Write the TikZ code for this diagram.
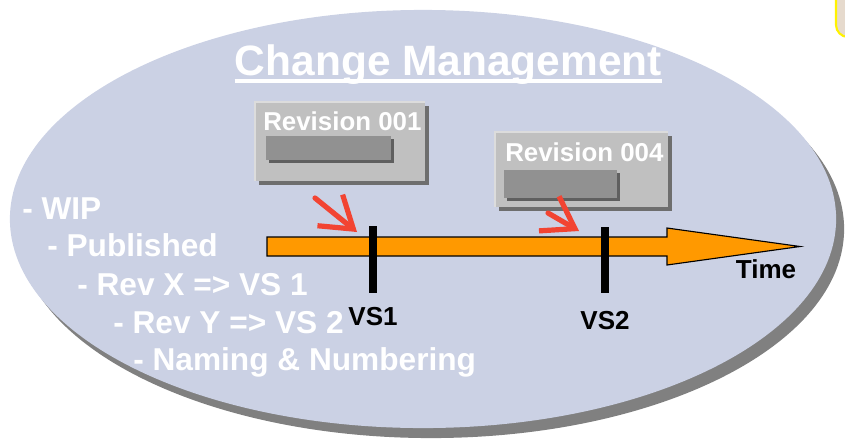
\documentclass[tikz,border=0pt]{standalone}
\usepackage{fontspec}
\setmainfont{Liberation Sans}
\usetikzlibrary{arrows.meta,shadows}

\definecolor{ovalblue}{RGB}{203,209,228}
\definecolor{ovalshadow}{RGB}{128,128,128}
\definecolor{boxgray}{RGB}{192,192,192}
\definecolor{boxlight}{RGB}{220,220,220}
\definecolor{boxdark}{RGB}{110,110,110}
\definecolor{bargray}{RGB}{145,145,145}
\definecolor{bardark}{RGB}{95,95,95}
\definecolor{timeorange}{RGB}{255,153,0}
\definecolor{pointred}{RGB}{242,68,50}
\definecolor{notebeige}{RGB}{230,218,205}

\begin{document}
\begin{tikzpicture}[x=0.025cm,y=-0.025cm]
			\tikzset{listitem/.style={anchor=base west,inner sep=0pt,text=white,font=\bfseries\fontsize{22.5}{27}\selectfont}}
			\tikzset{revbox/.style={fill=boxgray,inner sep=0pt,drop shadow={shadow xshift=0.1cm,shadow yshift=-0.1cm,fill=boxdark,opacity=1}}}
			\tikzset{revbar/.style={fill=bargray,inner sep=0pt,drop shadow={shadow xshift=0.07cm,shadow yshift=-0.07cm,fill=bardark,opacity=1}}}
			\tikzset{revtitle/.style={anchor=base west,inner sep=0pt,text=white,font=\bfseries\fontsize{18.4}{22}\selectfont}}
			\tikzset{vslabel/.style={anchor=base,inner sep=0pt,font=\bfseries\fontsize{18.5}{22}\selectfont}}
			\tikzset{vstick/.style={line width=0.2cm}}
			\tikzset{pointer/.style={draw=pointred,line width=0.13cm,line cap=round,line join=round,-{Straight Barb[length=0.75cm,width=1cm]}}}
			\useasboundingbox (0,0) rectangle (845,441);
			\clip (0,0) rectangle (845,441);
			\draw[fill=notebeige,draw=yellow,line width=1.5pt,rounded corners=0.3cm] (836,-20) rectangle (880,37);
			\fill[ovalshadow] (431,229) ellipse [x radius=10.325cm,y radius=5.225cm];
			\fill[ovalblue] (423,219) ellipse [x radius=10.325cm,y radius=5.225cm];
			\node[anchor=base,inner sep=0pt,text=white,font=\bfseries\fontsize{30.2}{36}\selectfont] (title) at (448.5,75) {Change Management};
			\draw[white,line width=0.09cm] ([yshift=-4.4pt]title.base west) -- ([yshift=-4.4pt]title.base east);
			\node[revbox,minimum width=4.25cm,minimum height=1.975cm] (rev1) at (340,141.5) {};
			\draw[boxlight,line width=1.5pt] (rev1.south west) -- (rev1.north west) -- (rev1.north east);
			\node[revtitle] (rev1title) at (263,130) {Revision 001};
			\node[revbar,minimum width=3.125cm,minimum height=0.6cm] (rev1bar) at (328.5,148) {};
			\node[revbox,minimum width=4.325cm,minimum height=1.875cm] (rev4) at (581.5,169.5) {};
			\draw[boxlight,line width=1.5pt] (rev4.south west) -- (rev4.north west) -- (rev4.north east);
			\node[revtitle] (rev4title) at (505,161) {Revision 004};
			\node[revbar,minimum width=2.825cm,minimum height=0.7cm] (rev4bar) at (560.5,184) {};
			\draw[fill=timeorange,line width=0.8pt] (267,237) -- (667,237) -- (667,228) -- (800,246.5) -- (667,265) -- (667,256) -- (267,256) -- cycle;
			\coordinate (vs1top) at (373,226);
			\coordinate (vs1bottom) at (373,293);
			\coordinate (vs2top) at (605,227);
			\coordinate (vs2bottom) at (605,293);
			\draw[vstick] (vs1top) -- (vs1bottom);
			\draw[vstick] (vs2top) -- (vs2bottom);
			\node[vslabel] (vs1) at (373,325) {VS1};
			\node[vslabel] (vs2) at (605,329) {VS2};
			\node[vslabel] (time) at (766,278) {Time};
			\coordinate (hint1) at (315,198);
			\coordinate (hint1tip) at (357,232);
			\coordinate (hint2) at (548,213);
			\coordinate (hint2tip) at (579,231);
			\draw[pointer] (hint1) -- (hint1tip);
			\draw[pointer] (hint2) -- (hint2tip);
			\node[listitem] (wip) at (22,219) {- WIP};
			\node[listitem] (published) at (47,256) {- Published};
			\node[listitem] (revx) at (77,295) {- Rev X => VS 1};
			\node[listitem] (revy) at (113,333) {- Rev Y => VS 2};
			\node[listitem] (naming) at (133,370) {- Naming \& Numbering};
		\end{tikzpicture}
\end{document}
